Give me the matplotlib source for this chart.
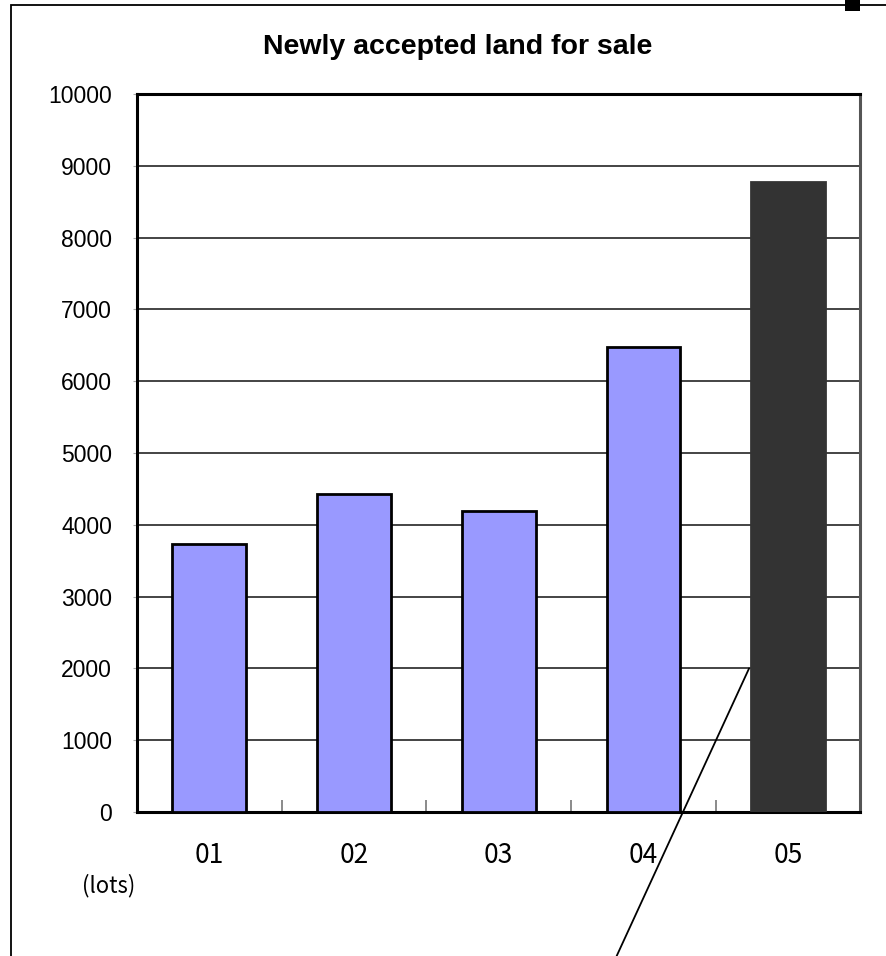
import matplotlib.pyplot as plt
from matplotlib.patches import Rectangle

# 年度別の新規受付件数
years = ['01', '02', '03', '04', '05']
lots = [3730, 4430, 4190, 6480, 8770]
colors = ['#9999ff', '#9999ff', '#9999ff', '#9999ff', '#333333']
edges = ['black', 'black', 'black', 'black', '#333333']

fig = plt.figure(figsize=(8.86, 9.56), dpi=100)
ax = fig.add_axes([0.1546, 0.1506, 0.8166, 0.7511])

x = range(len(years))
ax.bar(x, lots, width=0.51, color=colors, edgecolor=edges, linewidth=2, zorder=3)

ax.set_xlim(-0.5, 4.5)
ax.set_ylim(0, 10000)
ax.set_yticks(range(0, 10001, 1000))
ax.yaxis.grid(True, color='#111111', linewidth=1.1, zorder=1)
ax.tick_params(axis='y', length=3, color='#aaaaaa', pad=15, labelsize=16.5)
for lab in ax.get_yticklabels():
    lab.set_family(['Liberation Sans', 'DejaVu Sans'])

# 区切り目盛は内向き、ラベルは各カテゴリ中央
ax.set_xticks([0.5, 1.5, 2.5, 3.5])
ax.set_xticklabels([])
ax.tick_params(axis='x', direction='in', length=9, color='#777777', width=1.2)
for i, yr in enumerate(years):
    ax.text(i, -600, yr, ha='center', va='center', fontsize=19,
            family=['Noto Sans CJK JP', 'DejaVu Sans'])
ax.text(-0.695, -1020, '(lots)', ha='center', va='center', fontsize=16,
        family=['Noto Sans CJK JP', 'DejaVu Sans'])

for side in ['left', 'top', 'bottom']:
    ax.spines[side].set_linewidth(2.2)
    ax.spines[side].set_color('black')
ax.spines['right'].set_linewidth(2.2)
ax.spines['right'].set_color('#555555')

fig.text(0.5161, 0.9505, 'Newly accepted land for sale', ha='center', va='center',
         fontsize=20.5, fontweight='bold', family=['Liberation Sans', 'DejaVu Sans'])

# 05年の棒から下へ伸びる引き出し線
ax.annotate('', xy=(4 - 0.27, 2000), xycoords='data',
            xytext=(0.696, 0.0), textcoords='figure fraction',
            arrowprops=dict(arrowstyle='-', color='black', linewidth=1.3,
                            shrinkA=0, shrinkB=0),
            annotation_clip=False, zorder=5)

# 外枠と右上の黒い切れ端
fig.patches.append(Rectangle((11 / 886, -0.1), 1.0, 1.0948, transform=fig.transFigure,
                             fill=False, edgecolor='black', linewidth=1.3))
fig.patches.append(Rectangle((845 / 886, 945 / 956), 15 / 886, 11 / 956,
                             transform=fig.transFigure, color='black', linewidth=0))

fig.savefig('out.png', dpi=100)
